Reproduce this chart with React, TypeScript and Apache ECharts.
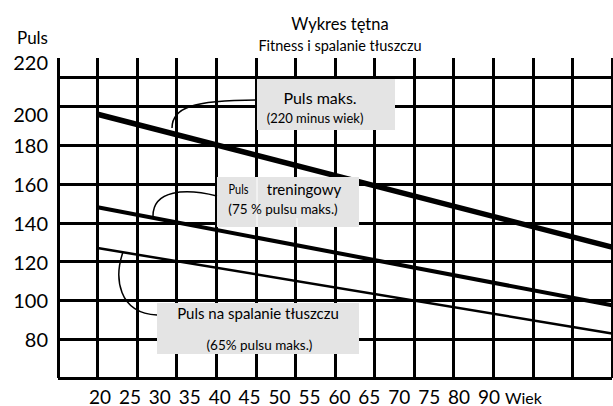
import React, { useEffect, useRef } from "react";
import * as echarts from "echarts";

// ---- data ----
const ages = [20, 85];
const maxPulse = [196, 127.5]; // Puls maks. (220 minus wiek)
const trainingPulse = [148, 97.5]; // Puls treningowy (75 % pulsu maks.)
const fatBurnPulse = [127, 83]; // Puls na spalanie tłuszczu (65% pulsu maks.)

const xTickLabels = ["20", "25", "30", "35", "40", "45", "50", "55", "60", "65", "70", "75", "80", "90"];
const topGridLine = [215];

const FONT = "Lato";

export default function App() {
  const ref = useRef<HTMLDivElement | null>(null);

  useEffect(() => {
    if (!ref.current) return;
    const chart = echarts.init(ref.current, null, { renderer: "svg" });

    const black = "#000";
    const boxFill = "#e4e4e4";

    const option: any = {
      animation: false,
      textStyle: { fontFamily: FONT, color: black },
      title: {
        text: "Wykres tętna",
        subtext: "Fitness i spalanie tłuszczu",
        left: 335,
        textAlign: "center",
        top: 10,
        itemGap: 6,
        textStyle: { fontFamily: FONT, fontSize: 16.5, fontWeight: "normal", color: black },
        subtextStyle: { fontFamily: FONT, fontSize: 14.5, color: black },
      },
      grid: [
        { left: 58, right: 1, top: 58, bottom: 28 },
        { left: 85, right: 109, top: 380, height: 1 },
      ],
      xAxis: [
        {
          type: "value",
          gridIndex: 0,
          min: 15,
          max: 85,
          interval: 5,
          axisLine: { show: false },
          axisTick: { show: false },
          axisLabel: { show: false },
          splitLine: { show: true, lineStyle: { color: black, width: 3 } },
        },
        {
          type: "category",
          gridIndex: 1,
          data: xTickLabels,
          boundaryGap: true,
          axisLine: { show: false },
          axisTick: { show: false },
          axisLabel: { interval: 0, fontSize: 19, lineHeight: 16, color: black, margin: 7, fontFamily: FONT },
          splitLine: { show: false },
        },
      ],
      yAxis: [
        {
          type: "value",
          gridIndex: 0,
          min: 60,
          max: 225,
          interval: 20,
          axisLine: { show: false },
          axisTick: { show: false },
          axisLabel: {
            showMinLabel: false,
            showMaxLabel: false,
            fontSize: 20,
            color: black,
            margin: 10,
            fontFamily: FONT,
            formatter: (v: number) => (v === 220 ? "{a|220}" : v === 200 ? "{b|200}" : String(v)),
            rich: {
              a: { fontSize: 20, fontFamily: FONT, color: black, padding: [0, 0, 11, 0] },
              b: { fontSize: 20, fontFamily: FONT, color: black, padding: [16, 0, 0, 0] },
            },
          },
          splitLine: {
            show: true,
            lineStyle: {
              width: 3,
              color: [black, black, black, black, black, black, black, black, "rgba(0,0,0,0)", "rgba(0,0,0,0)"],
            },
          },
        },
        { type: "value", gridIndex: 1, show: false, min: 0, max: 1 },
      ],
      series: [
        {
          type: "line",
          name: "Puls maks.",
          xAxisIndex: 0,
          yAxisIndex: 0,
          data: ages.map((a, i) => [a, maxPulse[i]]),
          symbol: "none",
          lineStyle: { color: black, width: 5.5 },
          markLine: {
            silent: true,
            symbol: ["none", "none"],
            label: { show: false },
            lineStyle: { color: black, width: 3, type: "solid" },
            data: topGridLine.map((v) => ({ yAxis: v })),
          },
        },
        {
          type: "line",
          name: "Puls treningowy",
          xAxisIndex: 0,
          yAxisIndex: 0,
          data: ages.map((a, i) => [a, trainingPulse[i]]),
          symbol: "none",
          lineStyle: { color: black, width: 4 },
        },
        {
          type: "line",
          name: "Puls na spalanie tłuszczu",
          xAxisIndex: 0,
          yAxisIndex: 0,
          data: ages.map((a, i) => [a, fatBurnPulse[i]]),
          symbol: "none",
          lineStyle: { color: black, width: 2.5 },
        },
      ],
      graphic: [
        // axis names
        { type: "text", x: 17, y: 37, z: 100, style: { text: "Puls", fontSize: 17, fontFamily: FONT, fill: black, align: "left", verticalAlign: "middle" } },
        { type: "text", x: 505, y: 397, z: 100, style: { text: "Wiek", fontSize: 16, fontFamily: FONT, fill: black, align: "left", verticalAlign: "middle" } },

        // box 1
        { type: "rect", z: 100, shape: { x: 257, y: 79, width: 138, height: 51 }, style: { fill: boxFill } },
        { type: "text", z: 101, x: 320, y: 97, style: { text: "Puls maks.", fontSize: 16, fontFamily: FONT, fill: black, align: "center", verticalAlign: "middle" } },
        { type: "text", z: 101, x: 315, y: 118, style: { text: "(220 minus wiek)", fontSize: 13, fontFamily: FONT, fill: black, align: "center", verticalAlign: "middle" } },
        { type: "bezierCurve", z: 101, shape: { x1: 257, y1: 100, cpx1: 192, cpy1: 100, cpx2: 172, cpy2: 108, x2: 172, y2: 128 }, style: { stroke: black, lineWidth: 1.5, fill: "none" } },

        // box 2
        { type: "rect", z: 100, shape: { x: 217, y: 177, width: 142, height: 50 }, style: { fill: boxFill } },
        { type: "line", z: 101, shape: { x1: 257, y1: 177, x2: 257, y2: 227 }, style: { stroke: "#fff", lineWidth: 1 } },
        { type: "line", z: 101, shape: { x1: 297, y1: 218, x2: 297, y2: 227 }, style: { stroke: "#fff", lineWidth: 1 } },
        { type: "text", z: 102, x: 238.5, y: 189, scaleX: 0.78, style: { text: "Puls", fontSize: 14, fontFamily: FONT, fill: black, align: "center", verticalAlign: "middle" } },
        { type: "text", z: 102, x: 304, y: 189, style: { text: "treningowy", fontSize: 15, fontFamily: FONT, fill: black, align: "center", verticalAlign: "middle" } },
        { type: "text", z: 102, x: 283, y: 209, style: { text: "(75 % pulsu maks.)", fontSize: 13.5, fontFamily: FONT, fill: black, align: "center", verticalAlign: "middle" } },
        { type: "bezierCurve", z: 101, shape: { x1: 217, y1: 196, cpx1: 185, cpy1: 188, cpx2: 153, cpy2: 190, x2: 153, y2: 216 }, style: { stroke: black, lineWidth: 1.5, fill: "none" } },

        // box 3
        { type: "rect", z: 100, shape: { x: 157, y: 303, width: 202, height: 51 }, style: { fill: boxFill } },
        { type: "text", z: 101, x: 258, y: 313, style: { text: "Puls na spalanie tłuszczu", fontSize: 15, fontFamily: FONT, fill: black, align: "center", verticalAlign: "middle" } },
        { type: "text", z: 101, x: 259.5, y: 345, style: { text: "(65% pulsu maks.)", fontSize: 13.5, fontFamily: FONT, fill: black, align: "center", verticalAlign: "middle" } },
        { type: "bezierCurve", z: 101, shape: { x1: 157, y1: 315, cpx1: 118, cpy1: 313, cpx2: 114, cpy2: 278, x2: 123, y2: 252 }, style: { stroke: black, lineWidth: 1.5, fill: "none" } },
      ],
    };

    chart.setOption(option);
    return () => chart.dispose();
  }, []);

  return (
    <div
      ref={ref}
      style={{ position: "absolute", left: 0, top: 0, width: 613, height: 406, background: "#fff" }}
    />
  );
}
